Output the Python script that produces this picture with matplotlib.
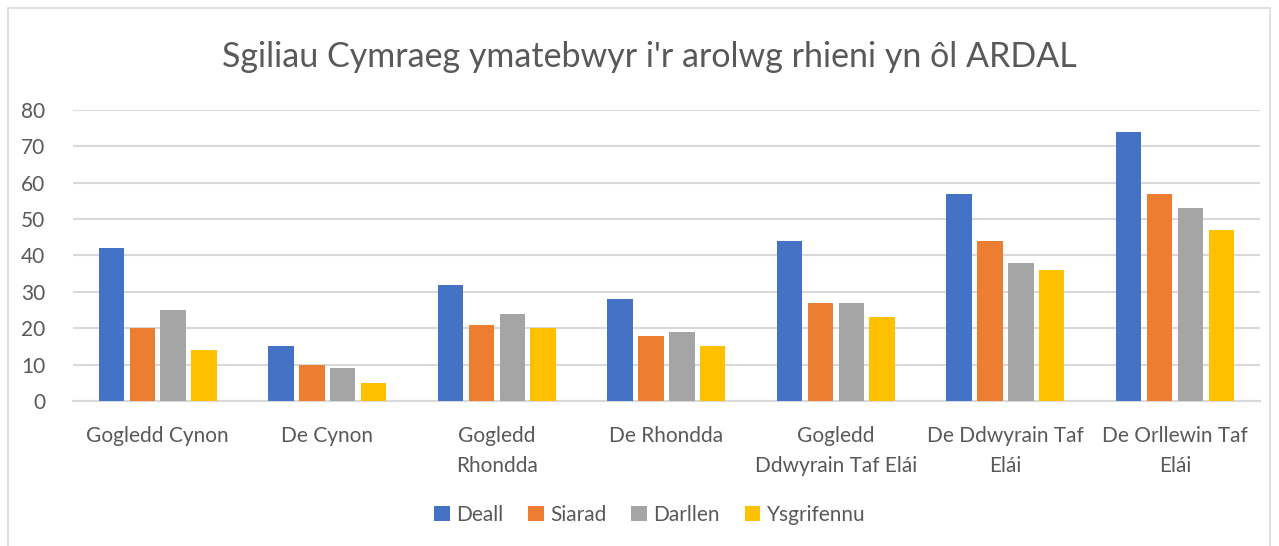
import matplotlib.pyplot as plt
import numpy as np
from matplotlib.patches import Rectangle

# Data
areas = ["Gogledd Cynon", "De Cynon", "Gogledd\nRhondda", "De Rhondda",
         "Gogledd\nDdwyrain Taf Elái", "De Ddwyrain Taf\nElái", "De Orllewin Taf\nElái"]
series_names = ["Deall", "Siarad", "Darllen", "Ysgrifennu"]
deall = [42, 15, 32, 28, 44, 57, 74]
siarad = [20, 10, 21, 18, 27, 44, 57]
darllen = [25, 9, 24, 19, 27, 38, 53]
ysgrifennu = [14, 5, 20, 15, 23, 36, 47]

colors = ["#4472C4", "#ED7D31", "#A5A5A5", "#FFC000"]
plt.rcParams['font.family'] = ['Lato', 'DejaVu Sans']

fig = plt.figure(figsize=(12.79, 5.46), dpi=100)
ax = fig.add_axes([0.057, 0.2656, 0.928, 0.533])

x = np.arange(len(areas))
step = 0.182
width = 0.15
for i, (name, vals) in enumerate(zip(series_names, [deall, siarad, darllen, ysgrifennu])):
    ax.bar(x + (i - 1.5) * step, vals, width, color=colors[i], label=name, zorder=3)

ax.set_xlim(-0.5, len(areas) - 0.5)
ax.set_ylim(0, 80)
ax.set_yticks(range(0, 81, 10))
ax.set_xticks(x)
ax.set_xticklabels(areas, fontsize=15, color="#595959", linespacing=1.65)
ax.tick_params(axis='y', labelsize=15, labelcolor="#595959", length=0, pad=20)
ax.tick_params(axis='x', length=0, pad=18)
ax.grid(axis='y', color="#d9d9d9", linewidth=1.5, zorder=0)
for s in ['top', 'right', 'left']:
    ax.spines[s].set_visible(False)
ax.spines['bottom'].set_color("#d9d9d9")
ax.spines['bottom'].set_linewidth(1.5)

fig.text(0.508, 0.895, "Sgiliau Cymraeg ymatebwyr i'r arolwg rhieni yn ôl ARDAL",
         ha='center', va='center', fontsize=24.5, color="#595959")

fig.legend(loc='center', bbox_to_anchor=(0.508, 0.057), ncol=4, frameon=False,
           fontsize=15, labelcolor="#595959", handlelength=0.75, handleheight=0.75,
           handletextpad=0.3, columnspacing=1.2)

fig.patches.append(Rectangle((0.006, -0.1), 0.987, 1.085, transform=fig.transFigure,
                             fill=False, edgecolor="#d9d9d9", linewidth=1.2))

fig.savefig("out.png", dpi=100)
